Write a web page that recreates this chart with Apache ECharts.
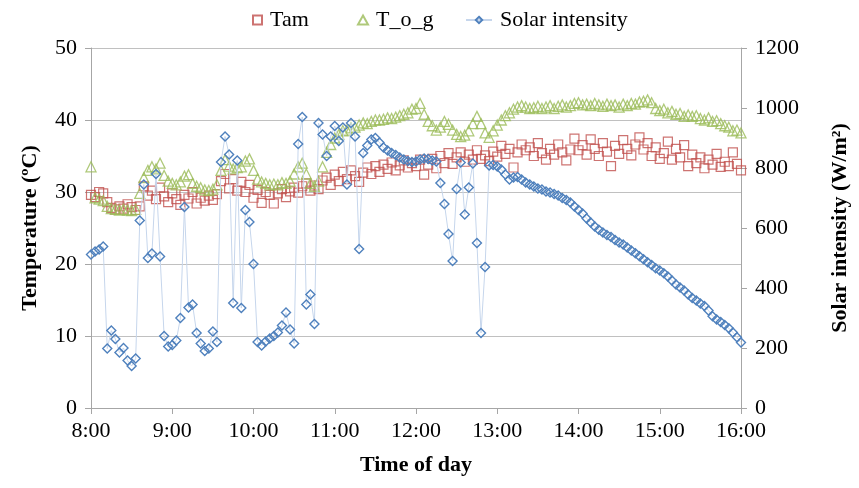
<!DOCTYPE html>
<html>
<head>
<meta charset="utf-8">
<script src="https://cdn.jsdelivr.net/npm/echarts@6/dist/echarts.min.js"></script>
<style>
  html, body { margin: 0; padding: 0; background: #fff; }
  #chart { width: 859px; height: 488px; }
</style>
</head>
<body>
<div id="chart"></div>
<script>
// sampling every 3 minutes from 8:00 (minute 0) to 16:00 (minute 480)
const minutes = [];
for (let m = 0; m <= 480; m += 3) minutes.push(m);

const hourLabels = ['8:00', '9:00', '10:00', '11:00', '12:00', '13:00', '14:00', '15:00', '16:00'];

// Tam (ºC)
const tam = [
  29.6, 29.3, 30.0, 29.8, 28.6, 27.8, 27.6, 28.0, 27.7, 28.3,
  27.9, 27.5, 28.0, 30.8, 29.5, 30.2, 29.0, 30.6, 29.4, 28.6,
  29.8, 29.0, 28.2, 29.6, 29.1, 30.0, 28.4, 29.2, 28.8, 29.5,
  28.9, 29.7, 31.5, 32.5, 30.5, 31.8, 30.2, 31.4, 30.0, 31.0,
  29.2, 30.3, 28.5, 30.0, 29.6, 28.4, 29.8, 30.4, 29.3, 30.1,
  30.6, 29.9, 30.8, 31.2, 30.2, 30.9, 30.4, 31.6, 32.0, 31.0,
  32.4, 31.5, 32.8, 31.8, 33.0, 32.2, 31.4, 32.7, 33.4, 32.5,
  33.6, 32.8, 33.8, 33.2, 34.1, 33.0, 33.7, 34.4, 33.4, 34.0,
  33.6, 34.5, 32.4, 33.8, 34.6, 33.3, 35.0, 34.0, 35.4, 33.9,
  34.8, 35.5, 34.2, 35.2, 34.5, 35.8, 34.6, 35.1, 34.3, 35.6,
  34.9, 36.4, 35.3, 36.0, 33.4, 35.5, 36.6, 35.8, 36.2, 35.0,
  36.8, 35.4, 34.5, 36.0, 35.2, 36.6, 35.5, 34.4, 35.9, 37.4,
  35.8, 36.5, 35.2, 37.3, 36.0, 35.0, 36.8, 35.6, 33.6, 36.4,
  35.3, 37.2, 36.0, 35.1, 36.6, 37.6, 35.9, 36.8, 35.0, 36.2,
  34.6, 35.4, 37.0, 34.5, 36.0, 34.8, 36.5, 33.6, 35.2, 34.0,
  34.8, 33.3, 34.5, 33.8, 35.3, 33.5, 34.2, 33.6, 35.5, 33.9,
  33.0
];

// T_o_g (ºC)
const tog = [
  33.5, 29.2, 29.0, 28.8, 28.0, 27.7, 27.6, 27.5, 27.6, 27.5,
  27.4, 27.6, 29.8, 32.0, 33.0, 33.5, 33.2, 34.0, 32.3, 31.5,
  31.2, 31.0, 31.4, 32.2, 32.4, 31.2, 30.8, 30.6, 30.3, 30.2,
  30.4, 31.0, 33.0, 34.5, 33.6, 33.2, 33.4, 33.5, 34.3, 34.6,
  33.0, 31.8, 31.4, 31.2, 31.0, 31.1, 31.0, 31.3, 31.2, 31.5,
  32.5, 33.5, 34.0, 32.5, 31.2, 30.8, 31.5, 33.5, 35.5, 36.6,
  37.5, 38.0, 38.5, 38.6, 38.9, 39.0, 39.3, 39.6, 39.5, 39.8,
  40.0, 40.0, 40.1, 40.3, 40.2, 40.4, 40.6, 40.8, 41.0, 41.5,
  41.6, 42.3, 40.8, 39.8, 39.2, 38.6, 39.0, 39.8, 39.4, 38.6,
  38.0, 37.7, 37.9, 38.5, 39.5, 40.5, 39.5, 38.2, 37.6, 38.5,
  39.3, 40.0, 40.6, 41.0, 41.5, 41.8, 42.0, 41.8, 41.6, 41.7,
  41.9, 41.6, 41.8, 42.0, 41.6, 41.9, 42.1, 41.8, 42.0, 42.3,
  42.4, 42.1, 42.2, 42.0, 42.3, 42.1, 41.9, 42.2, 42.0, 42.1,
  41.8, 42.2, 42.0, 42.3, 42.2, 42.5, 42.6, 42.8, 42.4, 41.6,
  41.3, 41.5, 41.0, 41.2, 40.8, 40.9, 40.5, 40.7, 40.5, 40.6,
  40.2, 40.0, 40.3, 39.8, 39.9, 39.5, 39.2, 39.0, 38.5, 38.6,
  38.2
];

// Solar intensity (W/m²)
const solar = [
  512, 522, 528, 538, 198, 258, 230, 185, 200, 158,
  140, 165, 625, 745, 500, 515, 780, 505, 240, 205,
  210, 225, 300, 670, 335, 345, 250, 215, 190, 198,
  255, 220, 820, 905, 845, 350, 825, 333, 660, 620,
  480, 220, 208, 222, 232, 240, 252, 275, 318, 262,
  215, 880, 970, 345, 378, 280, 950, 912, 840, 905,
  940, 890, 935, 745, 950, 905, 530, 850, 875, 895,
  900, 885, 868, 858, 850, 843, 835, 828, 823, 820,
  822, 828, 832, 830, 825, 822, 750, 680, 580, 490,
  730, 818, 645, 735, 815, 550, 250, 470, 808, 810,
  805, 795, 778, 762, 768, 770, 762, 752, 745, 738,
  732, 728, 722, 718, 713, 708, 700, 693, 685, 672,
  660, 648, 632, 618, 605, 594, 585, 577, 570, 560,
  552, 545, 535, 525, 516, 506, 496, 486, 477, 466,
  458, 449, 438, 425, 412, 402, 392, 378, 367, 358,
  348, 340, 325, 306, 295, 287, 277, 266, 252, 236,
  218
];

function pairs(vals) {
  return minutes.map(function (m, i) { return [m, vals[i]]; });
}

const serif = 'Liberation Serif';
const axisGrey = '#a6a6a6';

let myChart = echarts.init(document.getElementById('chart'));
let options = {
  animation: false,
  textStyle: { fontFamily: serif, color: '#000' },
  grid: { left: 91, right: 117, top: 48, bottom: 80 },
  legend: [
    {
      left: 247, top: 4, data: ['Tam'], itemWidth: 9, itemHeight: 9,
      textStyle: { fontFamily: serif, fontSize: 22, color: '#000', padding: [0, 0, 0, 3] }
    },
    {
      left: 352, top: 4, data: ['T_o_g'], itemWidth: 10, itemHeight: 9,
      textStyle: { fontFamily: serif, fontSize: 22, color: '#000', padding: [0, 0, 0, 3] }
    },
    {
      left: 460, top: 4, data: ['Solar intensity'], itemWidth: 26, itemHeight: 8,
      textStyle: { fontFamily: serif, fontSize: 22, color: '#000', padding: [0, 0, 0, 3] }
    }
  ],
  xAxis: {
    type: 'value',
    min: 0, max: 480, interval: 60,
    name: 'Time of day',
    nameLocation: 'middle',
    nameGap: 46,
    nameTextStyle: { fontFamily: serif, fontSize: 22, fontWeight: 'bold', color: '#000' },
    axisLine: { lineStyle: { color: axisGrey } },
    axisTick: { length: 6, lineStyle: { color: axisGrey } },
    axisLabel: {
      fontFamily: serif, fontSize: 22, color: '#000', margin: 12,
      formatter: function (v) { return hourLabels[v / 60]; }
    },
    splitLine: { show: false }
  },
  yAxis: [
    {
      type: 'value',
      min: 0, max: 50, interval: 10,
      name: 'Temperature (ºC)',
      nameLocation: 'middle',
      nameGap: 50,
      nameTextStyle: { fontFamily: serif, fontSize: 22, fontWeight: 'bold', color: '#000' },
      axisLine: { show: true, lineStyle: { color: axisGrey } },
      axisTick: { show: true, length: 6, lineStyle: { color: axisGrey } },
      axisLabel: { fontFamily: serif, fontSize: 22, color: '#000', margin: 14 },
      splitLine: { show: true, lineStyle: { color: '#c0c0c0' } }
    },
    {
      type: 'value',
      position: 'right',
      min: 0, max: 1200, interval: 200,
      name: 'Solar intensity (W/m²)',
      nameLocation: 'middle',
      nameRotate: 90,
      nameGap: 88,
      nameTextStyle: { fontFamily: serif, fontSize: 22, fontWeight: 'bold', color: '#000' },
      axisLine: { show: true, lineStyle: { color: axisGrey } },
      axisTick: { show: true, length: 6, lineStyle: { color: axisGrey } },
      axisLabel: {
        fontFamily: serif, fontSize: 22, color: '#000', margin: 14,
        formatter: function (v) { return String(v); }
      },
      splitLine: { show: false }
    }
  ],
  series: [
    {
      name: 'Tam',
      type: 'scatter',
      yAxisIndex: 0,
      symbol: 'rect',
      symbolSize: 9,
      itemStyle: { color: 'rgba(0,0,0,0)', borderColor: '#C0504D', borderWidth: 1.2 },
      data: pairs(tam)
    },
    {
      name: 'T_o_g',
      type: 'scatter',
      yAxisIndex: 0,
      symbol: 'triangle',
      symbolSize: 10,
      itemStyle: { color: 'rgba(0,0,0,0)', borderColor: '#9BBB59', borderWidth: 1.3 },
      data: pairs(tog)
    },
    {
      name: 'Solar intensity',
      type: 'line',
      yAxisIndex: 1,
      symbol: 'diamond',
      symbolSize: 9,
      showAllSymbol: true,
      lineStyle: { color: '#C6D6EC', width: 1 },
      itemStyle: { color: 'rgba(0,0,0,0)', borderColor: '#4F81BD', borderWidth: 1.4 },
      data: pairs(solar)
    }
  ]
};
myChart.setOption(options);
</script>
</body>
</html>
